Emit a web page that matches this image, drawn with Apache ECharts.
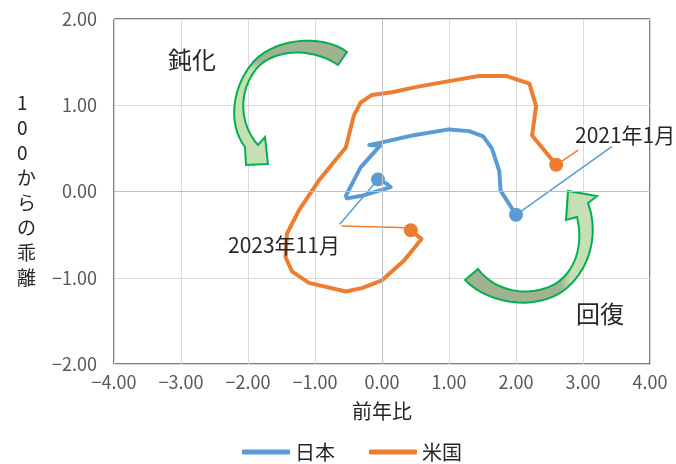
<!DOCTYPE html>
<html lang="ja">
<head>
<meta charset="UTF-8">
<title>日米 前年比と100からの乖離</title>
<script src="https://cdn.jsdelivr.net/npm/echarts@6/dist/echarts.min.js"></script>
<style>
  html, body { margin: 0; padding: 0; background: #fff; }
  #main { width: 676px; height: 464px; }
</style>
</head>
<body>
<div id="main"></div>
<script type="text/javascript">
// 2021年1月 -> 2023年11月 [前年比, 100からの乖離]
var japanPoints = [
  [2.00, -0.27], [1.77, 0.01], [1.75, 0.24], [1.64, 0.50], [1.51, 0.64],
  [1.30, 0.70], [1.00, 0.72], [0.45, 0.65], [0.00, 0.57], [-0.19, 0.54],
  [-0.03, 0.53], [-0.32, 0.28], [-0.54, -0.05], [-0.52, -0.08], [-0.30, -0.05],
  [0.13, 0.05], [0.07, 0.09], [-0.06, 0.14]
];
var usPoints = [
  [2.60, 0.31], [2.24, 0.65], [2.30, 0.99], [2.20, 1.25], [1.85, 1.34],
  [1.45, 1.34], [1.00, 1.28], [0.50, 1.21], [0.15, 1.15], [-0.15, 1.12],
  [-0.32, 1.03], [-0.42, 0.88], [-0.54, 0.51], [-0.94, 0.13], [-1.24, -0.22],
  [-1.42, -0.49], [-1.44, -0.76], [-1.34, -0.93], [-1.09, -1.06], [-0.54, -1.16],
  [-0.30, -1.12], [0.00, -1.03], [0.33, -0.80], [0.59, -0.55], [0.54, -0.52],
  [0.43, -0.45]
];
// leader lines from the date labels to the first / last points
var japanLeaderStart = [[3.43, 0.52], [2.00, -0.27]];
var usLeaderStart = [[2.93, 0.48], [2.60, 0.31]];
var japanLeaderEnd = [[-0.63, -0.38], [-0.06, 0.14]];
var usLeaderEnd = [[-0.60, -0.40], [0.40, -0.42]];

var seriesNames = ['日本', '米国'];
var colors = ['#5B9BD5', '#ED7D31'];

var chart = echarts.init(document.getElementById('main'));
var font = '"Noto Sans CJK JP", "Noto Sans", sans-serif';

function fmt(v) {
  return v.toFixed(2).replace('-', '\u2212');
}

function endSize(n) {
  return function (val, p) {
    return (p.dataIndex === 0 || p.dataIndex === n - 1) ? 14 : 0;
  };
}

function leader(data, color) {
  return {
    type: 'line', data: data, silent: true, symbol: 'none', z: 1,
    lineStyle: { color: color, width: 1.5 }
  };
}

// outline of the block arrows: 'C' = cubic bezier (3 points), 'L' = straight
function outline(start, segs) {
  var pts = [start], cur = start;
  segs.forEach(function (s) {
    if (s[0] === 'L') {
      pts.push(s[1]); cur = s[1];
    } else {
      var a = s[1], b = s[2], c = s[3];
      for (var i = 1; i <= 16; i++) {
        var t = i / 16, u = 1 - t;
        pts.push([
          u * u * u * cur[0] + 3 * u * u * t * a[0] + 3 * u * t * t * b[0] + t * t * t * c[0],
          u * u * u * cur[1] + 3 * u * u * t * a[1] + 3 * u * t * t * b[1] + t * t * t * c[1]
        ]);
      }
      cur = c;
    }
  });
  return pts;
}

var dark = '#A0B28F', light = '#C6E0B4';
function grad(x2, y2, a, b) {
  return {
    type: 'linear', x: 0, y: 0, x2: x2, y2: y2,
    colorStops: [
      { offset: 0, color: dark }, { offset: a, color: dark },
      { offset: b, color: light }, { offset: 1, color: light }
    ]
  };
}

var arrowSlow = outline([347, 52], [
  ['C', [322, 33], [270, 38], [250, 66]],
  ['C', [232, 90], [228, 125], [245, 147]],
  ['L', [246, 165]], ['L', [268, 164]], ['L', [265, 137]], ['L', [258, 145]],
  ['C', [240, 125], [237, 92], [257, 68]],
  ['C', [274, 49], [312, 47], [338, 65]]
]);
var arrowBack = outline([465, 280], [
  ['C', [490, 306], [545, 313], [572, 283]],
  ['C', [592, 262], [598, 230], [588, 203]],
  ['L', [597, 196]], ['L', [568, 191]], ['L', [566, 220]], ['L', [577, 217]],
  ['C', [584, 245], [575, 272], [555, 284]],
  ['C', [530, 298], [495, 292], [478, 269]]
]);

var option = {
  animation: false,
  textStyle: { fontFamily: font },
  color: colors,
  grid: {
    left: 114, right: 26, top: 19, bottom: 100,
    show: true, borderColor: '#000', borderWidth: 1
  },
  xAxis: {
    type: 'value', min: -4, max: 4, interval: 1,
    name: '前年比', nameLocation: 'middle', nameGap: 37,
    nameTextStyle: { fontSize: 20, color: '#262626', fontFamily: font },
    axisLine: { show: false }, axisTick: { show: false },
    axisLabel: { fontSize: 18, color: '#595959', margin: 9, formatter: fmt, fontFamily: font },
    splitLine: { lineStyle: { color: '#D9D9D9', width: 1 } }
  },
  yAxis: {
    type: 'value', min: -2, max: 2, interval: 1,
    axisLine: { show: false }, axisTick: { show: false },
    axisLabel: { fontSize: 18, color: '#595959', margin: 17, formatter: fmt, fontFamily: font },
    splitLine: { lineStyle: { color: '#D9D9D9', width: 1 } }
  },
  legend: {
    data: seriesNames, left: 237, bottom: -3,
    icon: 'roundRect', itemWidth: 48, itemHeight: 5, itemGap: 34,
    textStyle: { fontSize: 20, color: '#262626', fontFamily: font }
  },
  graphic: [
    {
      type: 'text', left: 17, top: 90, z: 10,
      style: {
        text: '1\n0\n0\nか\nら\nの\n乖\n離', lineHeight: 25,
        fill: '#262626', font: '19px ' + font, align: 'center'
      }
    },
    {
      type: 'text', left: 168, top: 48, z: 10,
      style: { text: '鈍化', font: '24px ' + font, fill: '#262626' }
    },
    {
      type: 'text', left: 576, top: 302, z: 10,
      style: { text: '回復', font: '24px ' + font, fill: '#262626' }
    },
    {
      type: 'text', left: 575, top: 125, z: 10,
      style: { text: '2021年1月', font: '21px ' + font, fill: '#262626' }
    },
    {
      type: 'text', left: 228, top: 235, z: 10,
      style: { text: '2023年11月', font: '21px ' + font, fill: '#262626' }
    },
    {
      type: 'polygon', z: 5,
      shape: { points: arrowSlow },
      style: { fill: grad(0, 1, 0.17, 0.24), stroke: '#00B050', lineWidth: 2 }
    },
    {
      type: 'polygon', z: 5,
      shape: { points: arrowBack },
      style: { fill: grad(1, 0, 0.72, 0.8), stroke: '#00B050', lineWidth: 2 }
    }
  ],
  series: [
    {
      type: 'line', data: [], silent: true, z: 0,
      markLine: {
        silent: true, symbol: 'none', label: { show: false },
        lineStyle: { color: '#BFBFBF', width: 1, type: 'solid' },
        data: [{ xAxis: 0 }, { yAxis: 0 }]
      }
    },
    leader(japanLeaderStart, colors[0]),
    leader(usLeaderStart, colors[1]),
    leader(japanLeaderEnd, colors[0]),
    leader(usLeaderEnd, colors[1]),
    {
      name: seriesNames[0], type: 'line', data: japanPoints, z: 3,
      symbol: 'circle', showAllSymbol: true, symbolSize: endSize(japanPoints.length),
      itemStyle: { color: colors[0] },
      lineStyle: { color: colors[0], width: 4, cap: 'round', join: 'round' }
    },
    {
      name: seriesNames[1], type: 'line', data: usPoints, z: 3,
      symbol: 'circle', showAllSymbol: true, symbolSize: endSize(usPoints.length),
      itemStyle: { color: colors[1] },
      lineStyle: { color: colors[1], width: 4, cap: 'round', join: 'round' }
    }
  ]
};
chart.setOption(option);
</script>
</body>
</html>
